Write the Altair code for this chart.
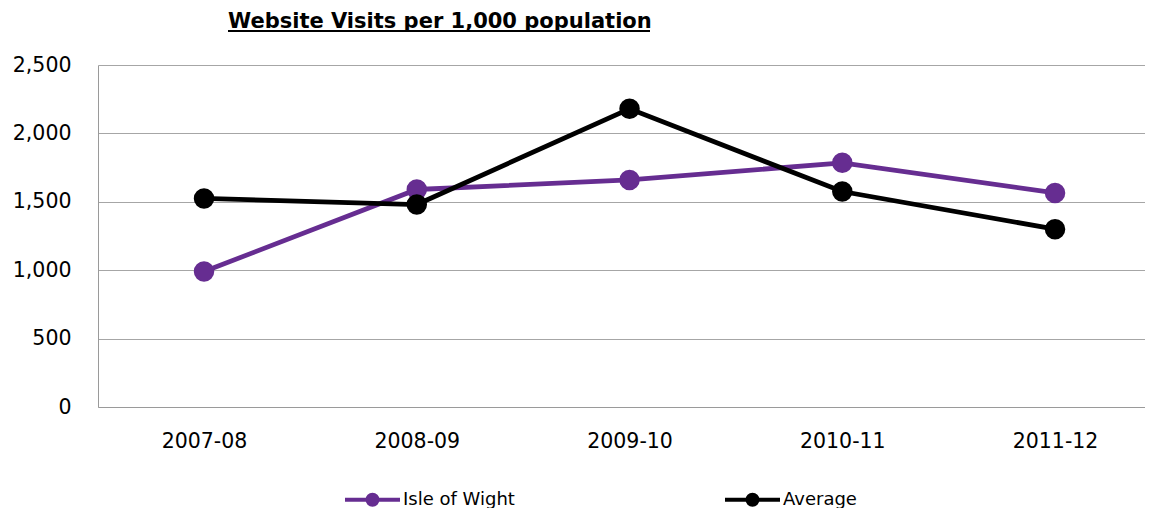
import altair as alt
import pandas as pd

years = ["2007-08", "2008-09", "2009-10", "2010-11", "2011-12"]
iow = [990, 1590, 1660, 1785, 1565]
avg = [1525, 1480, 2180, 1575, 1300]
series = ["Isle of Wight", "Average"]
colors = ["#662D91", "#000000"]
y_ticks = [0, 500, 1000, 1500, 2000, 2500]
title_text = "Website Visits per 1,000 population"

rows = []
for s, vals in zip(series, [iow, avg]):
    for yr, v in zip(years, vals):
        rows.append({"Year": yr, "Series": s, "Value": v})
df = pd.DataFrame(rows)

FONT = "DejaVu Sans"
sym = ("M-1,0H1"
       "M-0.1818,0a0.1818,0.1818 0 1,0 0.3636,0a0.1818,0.1818 0 1,0 -0.3636,0"
       "M-0.0727,0a0.0727,0.0727 0 1,0 0.1454,0a0.0727,0.0727 0 1,0 -0.1454,0")

color = alt.Color(
    "Series:N",
    scale=alt.Scale(domain=series, range=colors),
    legend=alt.Legend(
        title=None, orient="none", legendX=245, legendY=405,
        direction="horizontal", columnPadding=202,
        symbolType=sym, symbolSize=3025, symbolStrokeWidth=4,
        labelFont=FONT, labelFontSize=18, labelColor="#000000", labelOffset=1,
    ),
)
x = alt.X(
    "Year:N", sort=years, title=None,
    scale=alt.Scale(type="point", padding=0.4606, align=0.541),
    axis=alt.Axis(labelAngle=0, ticks=False, grid=False, labelPadding=24,
                  labelFont=FONT, labelFontSize=20.5, labelColor="#000000",
                  domainColor="#9A9A9A", domainWidth=1),
)
y = alt.Y(
    "Value:Q", title=None,
    scale=alt.Scale(domain=[0, 2500], nice=False),
    axis=alt.Axis(values=y_ticks, format=",.0f", ticks=False, labelPadding=27,
                  labelFont=FONT, labelFontSize=20.5, labelColor="#000000",
                  grid=True, gridColor="#A6A6A6", gridWidth=1,
                  domainColor="#9A9A9A", domainWidth=1),
)

layers = []
for s in series:
    sub = df[df["Series"] == s]
    base = alt.Chart(sub)
    layers.append(base.mark_line(strokeWidth=4.8).encode(x=x, y=y, color=color))
    layers.append(base.mark_point(filled=True, size=420, opacity=1).encode(x=x, y=y, color=color))

title_mark = alt.Chart(alt.Data(values=[{"t": title_text}])).mark_text(
    font=FONT, fontSize=21, fontWeight="bold", color="#000000",
    align="left", baseline="alphabetic",
).encode(text="t:N", x=alt.value(130), y=alt.value(-37))
underline = alt.Chart(alt.Data(values=[{}])).mark_rule(color="#000000", strokeWidth=2).encode(
    x=alt.value(130), x2=alt.value(552), y=alt.value(-34)
)
layers += [title_mark, underline]

chart = alt.layer(*layers).properties(
    width=1047, height=342,
    autosize=alt.AutoSizeParams(type="none"),
    padding={"left": 90, "top": 57, "right": 0, "bottom": 101},
).configure_view(stroke=None)

chart.save("out.html", embed_options={"renderer": "svg", "actions": False})
